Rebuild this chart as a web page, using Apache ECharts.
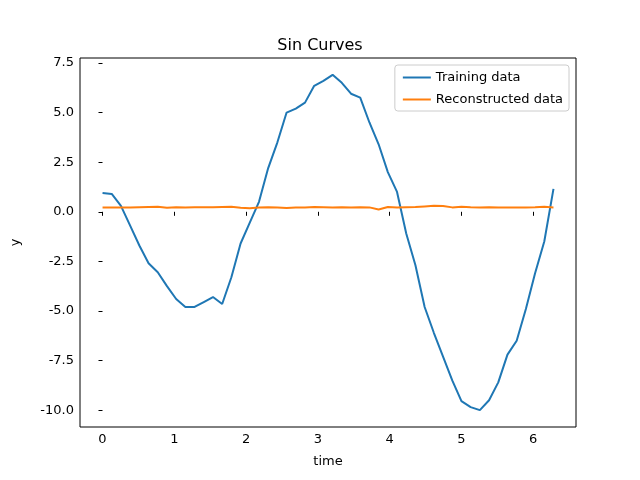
<!DOCTYPE html>
<html>
<head>
<meta charset="utf-8">
<script src="https://cdn.jsdelivr.net/npm/echarts@6/dist/echarts.min.js"></script>
<style>html,body{margin:0;padding:0;background:#fff}#main{width:640px;height:480px}</style>
</head>
<body>
<div id="main"></div>
<script>
// 50 samples over [0, 2*pi]
var times = [];
for (var i = 0; i < 50; i++) times.push(i * 2 * Math.PI / 49);

var training = [0.95, 0.9, 0.3, -0.7, -1.7, -2.6, -3.05, -3.75, -4.4, -4.8,
    -4.8, -4.55, -4.3, -4.65, -3.3, -1.6, -0.55, 0.5, 2.2, 3.5,
    5.0, 5.2, 5.5, 6.35, 6.6, 6.9, 6.5, 5.95, 5.75, 4.5,
    3.4, 2.0, 1.0, -1.1, -2.7, -4.8, -6.1, -7.3, -8.5, -9.55,
    -9.85, -10.0, -9.5, -8.6, -7.2, -6.5, -4.9, -3.1, -1.5, 1.15];
var reconstructed = [0.22, 0.22, 0.21, 0.22, 0.23, 0.24, 0.25, 0.2, 0.23, 0.22,
    0.23, 0.23, 0.23, 0.24, 0.25, 0.2, 0.18, 0.22, 0.23, 0.22,
    0.19, 0.21, 0.22, 0.24, 0.23, 0.22, 0.23, 0.22, 0.23, 0.22,
    0.11, 0.24, 0.22, 0.23, 0.24, 0.27, 0.3, 0.29, 0.22, 0.25,
    0.23, 0.22, 0.23, 0.22, 0.22, 0.22, 0.22, 0.23, 0.25, 0.22];
var xTicks = [0, 1, 2, 3, 4, 5, 6];

function pairs(ys) {
    return ys.map(function (v, i) { return [times[i], v]; });
}

var font = 'DejaVu Sans';
var myChart = echarts.init(document.getElementById('main'));
var option = {
    animation: false,
    textStyle: { fontFamily: font },
    title: {
        text: 'Sin Curves', left: 'center', top: 33,
        textStyle: { fontFamily: font, fontSize: 16, fontWeight: 'normal', color: '#000' }
    },
    legend: {
        right: 71, top: 65, orient: 'vertical',
        data: ['Training data', 'Reconstructed data'],
        icon: 'rect', itemWidth: 28, itemHeight: 2, itemGap: 9,
        borderColor: '#ccc', borderWidth: 1, borderRadius: 3,
        padding: [6, 6, 5, 8], backgroundColor: 'rgba(255,255,255,0.8)',
        textStyle: { fontFamily: font, fontSize: 13, color: '#000' }
    },
    grid: [
        { left: 80, right: 64, top: 58, bottom: 53, show: true, borderColor: '#000', borderWidth: 1 },
        { left: 102.5, right: 106.8, top: 63, bottom: 69.8 }
    ],
    xAxis: [{
        type: 'value', gridIndex: 0, min: -0.314, max: 6.597,
        name: 'time', nameLocation: 'middle', nameGap: 28,
        nameTextStyle: { fontFamily: font, fontSize: 13, color: '#000' },
        axisLine: { show: false }, axisTick: { show: false }, axisLabel: { show: false },
        splitLine: { show: false }
    }, {
        type: 'value', gridIndex: 1, min: xTicks[0], max: xTicks[xTicks.length - 1], interval: 1,
        position: 'bottom', offset: 16.8,
        axisLine: { show: false },
        axisTick: { show: true, length: 4, lineStyle: { color: '#000' } },
        axisLabel: { fontFamily: font, fontSize: 13, color: '#000', margin: 6 },
        splitLine: { show: false }
    }],
    yAxis: [{
        type: 'value', gridIndex: 0, min: -10.85, max: 7.75,
        name: 'y', nameLocation: 'middle', nameGap: 58, nameRotate: 90,
        nameTextStyle: { fontFamily: font, fontSize: 13, color: '#000' },
        axisLine: { show: false }, axisTick: { show: false }, axisLabel: { show: false },
        splitLine: { show: false }
    }, {
        type: 'value', gridIndex: 1, min: -10, max: 7.5, interval: 2.5,
        position: 'left', offset: 22.5,
        axisLine: { show: false },
        axisTick: { show: true, length: 4, lineStyle: { color: '#000' } },
        axisLabel: { fontFamily: font, fontSize: 13, color: '#000', margin: 6,
            formatter: function (v) { return v.toFixed(1); } },
        splitLine: { show: false }
    }],
    series: [{
        name: 'Training data', type: 'line', xAxisIndex: 0, yAxisIndex: 0,
        data: pairs(training), showSymbol: false, color: '#1f77b4',
        lineStyle: { width: 2, color: '#1f77b4' }
    }, {
        name: 'Reconstructed data', type: 'line', xAxisIndex: 0, yAxisIndex: 0,
        data: pairs(reconstructed), showSymbol: false, color: '#ff7f0e',
        lineStyle: { width: 2, color: '#ff7f0e' }
    }]
};
myChart.setOption(option);
</script>
</body>
</html>
